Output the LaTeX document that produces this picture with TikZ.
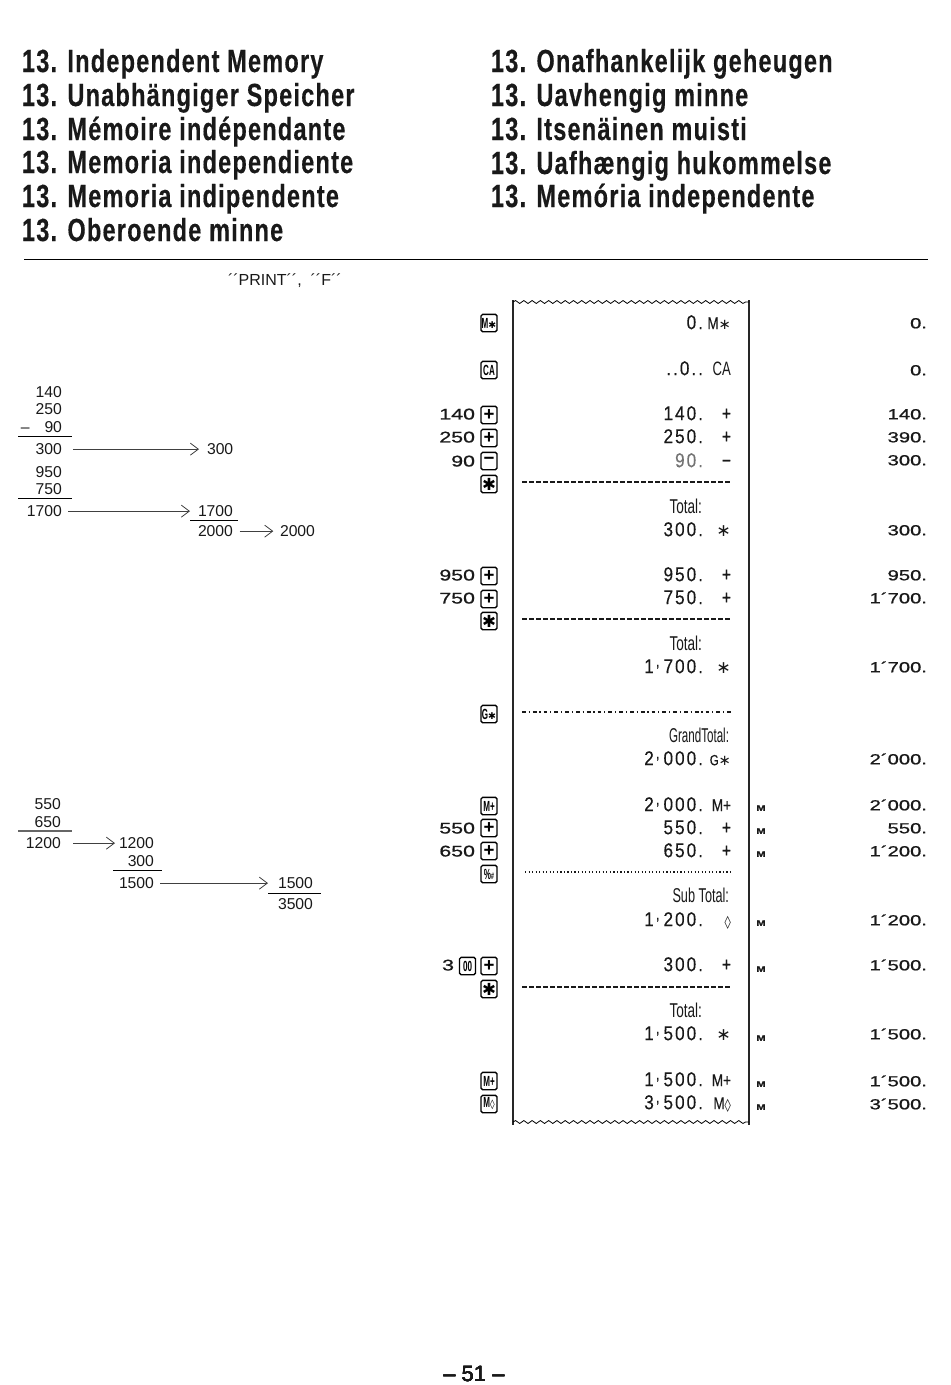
\documentclass[tikz,border=0pt]{standalone}
\usepackage{fontspec}
\usetikzlibrary{arrows.meta,decorations.pathmorphing}
\setmainfont{Liberation Sans}
\newfontfamily\headf[FakeStretch=0.735,LetterSpace=3.8,FakeBold=0.3]{Liberation Sans Bold}
\newfontfamily\recf[FakeStretch=0.86,LetterSpace=10,FakeBold=0.25]{Liberation Sans}
\newfontfamily\labf[FakeStretch=0.68]{Liberation Sans}
\newfontfamily\labg[FakeStretch=0.58]{Liberation Sans}
\newfontfamily\labs[FakeStretch=0.635]{Liberation Sans}
\newfontfamily\symlab[FakeStretch=0.78,FakeBold=0.2]{Liberation Sans}
\newfontfamily\widef[FakeStretch=1.38,FakeBold=0.9]{Liberation Sans}
\newfontfamily\symf{DejaVu Sans}
\newfontfamily\keyf[FakeStretch=0.55]{Liberation Sans Bold}
\newfontfamily\plusf{Liberation Sans Bold}
\newcommand\fsz[1]{\fontsize{#1}{#1}\selectfont}
\newcommand\rc{\kern1.6pt\raisebox{.33em}{\scalebox{.75}{,}}\kern3pt}
\newcommand\st{{\symf\fsz{13}∗}}
\newcommand\sst{{\symf\fsz{11}∗}}
\tikzset{
  txt/.style={inner sep=0pt,outer sep=0pt,text=black!90},
  head/.style={txt,anchor=base west,font=\headf\fsz{24}},
  sumtxt/.style={txt,anchor=mid east,yshift=-.8pt,font=\fsz{11.8}},
  sumleft/.style={txt,anchor=mid west,yshift=-.8pt,font=\fsz{11.8}},
  recnum/.style={txt,anchor=mid east,yshift=-2pt,font=\recf\fsz{15}},
  recsym/.style={txt,anchor=mid east,yshift=-2pt,font=\symlab\fsz{15}},
  reclab/.style={txt,anchor=mid east,yshift=-2pt,font=\labf\fsz{15}},
  disp/.style={txt,anchor=mid east,yshift=-.6pt,font=\widef\fsz{11}},
  inp/.style={txt,anchor=mid east,yshift=-.7pt,font=\widef\fsz{11.6}},
  mflag/.style={txt,font=\widef\bfseries\fsz{6}},
  keybox/.style={draw=black,line width=1pt,rounded corners=1.2pt,inner sep=0pt,minimum width=12pt,minimum height=13pt,font=\keyf\fsz{11}},
  rule/.style={draw=black,line width=1pt},
  thinrule/.style={draw=black!60,line width=.8pt},
  flow/.style={draw=black!75,line width=.6pt,-{Straight Barb[length=6pt,width=9pt,line width=.6pt]}},
  tear/.style={draw=black,line width=.6pt,decorate,decoration={snake,amplitude=1.1pt,segment length=6.2pt}},
  edge/.style={draw=black!85,line width=1.1pt},
  dashline/.style={draw=black!90,line width=.85pt,dash pattern=on 3.7pt off 1.55pt},
  dotline/.style={draw=black!90,line width=.9pt,dash pattern=on .9pt off 1.75pt},
  dashdot/.style={draw=black!90,line width=.8pt,dash pattern=on 2.8pt off 2.2pt on .9pt off 2.2pt},
}
% name, y, number, symbol
\newcommand\row[4]{\node[recnum] (#1n) at (703,#2) {#3};\node[recsym] (#1s) at (731,#2) {#4};}
% name, y, value
\newcommand\dsp[3]{\node[disp] (#1d) at (927,#2+1) {#3};}
\newcommand\flag[2]{\node[mflag] (#1f) at (761,#2+3) {M};}
\newcommand\key[3]{\node[keybox] (#1k) at (489,#2) {#3};}
\newcommand\pk{\plusf\fsz{14}+}
\newcommand\mk{\plusf\fsz{14}−}
\newcommand\sk{\symf\fsz{12.5}✱}
\begin{document}
\begin{tikzpicture}[x=.75pt,y=-.75pt]
\useasboundingbox (0,0) rectangle (950,1385);
% headings
\foreach \t/\y/\n in {13. Independent Memory/72/ha,13. Unabhängiger Speicher/106/hb,13. Mémoire indépendante/140/hc,13. Memoria independiente/173/hd,13. Memoria indipendente/207/he,13. Oberoende minne/241/hf}
  \node[head] (\n) at (22,\y) {\t};
\foreach \t/\y/\n in {13. Onafhankelijk geheugen/72/ia,13. Uavhengig minne/106/ib,13. Itsenäinen muisti/140/ic,13. Uafhængig hukommelse/174/id,13. Memória independente/207/ie}
  \node[head] (\n) at (491,\y) {\t};
\path[rule] (24,259.5) -- (928,259.5);
\node[txt,anchor=mid west,yshift=-1.2pt,font=\fsz{12}] (print) at (228,280) {´´PRINT´´,\ \ ´´F´´};
% left sums 1
\node[sumtxt] (a1) at (62,393) {140};
\node[sumtxt] (a2) at (62,410) {250};
\node[sumtxt] (a3) at (62,428) {90};
\node[sumleft] (a3m) at (21,428) {–};
\path[rule] (18,436.5) -- (72,436.5);
\node[sumtxt] (a4) at (62,450) {300};
\node[sumleft] (a5) at (207,450) {300};
\draw[flow,shorten <=8.2pt,shorten >=6pt] (a4.east) -- (a5.west);
\node[sumtxt] (b1) at (62,473) {950};
\node[sumtxt] (b2) at (62,490) {750};
\path[rule] (18,498.5) -- (72,498.5);
\node[sumtxt] (b3) at (62,512) {1700};
\node[sumleft] (b4) at (198,512) {1700};
\draw[flow,shorten <=4.5pt,shorten >=6pt] (b3.east) -- (b4.west);
\path[rule] (190,520.5) -- (238,520.5);
\node[sumleft] (b5) at (198,532) {2000};
\node[sumleft] (b6) at (280,532) {2000};
\draw[flow,shorten <=5pt,shorten >=5pt] (b5.east) -- (b6.west);
% left sums 2
\node[sumtxt] (c1) at (61,805) {550};
\node[sumtxt] (c2) at (61,823) {650};
\path[thinrule] (18,831) -- (72,831);
\node[sumtxt] (c3) at (61,844) {1200};
\node[sumleft] (c4) at (119,844) {1200};
\draw[flow,shorten <=9pt,shorten >=3pt] (c3.east) -- (c4.west);
\node[sumtxt] (c5) at (154,862) {300};
\path[rule] (113,870.5) -- (162,870.5);
\node[sumtxt] (c6) at (154,884) {1500};
\node[sumleft] (c7) at (278,884) {1500};
\draw[flow,shorten <=4.5pt,shorten >=7.5pt] (c6.east) -- (c7.west);
\path[rule] (268,893.5) -- (321,893.5);
\node[sumleft] (c8) at (278,905) {3500};
% tape
\path[edge] (513,300) -- (513,1125);
\path[edge] (749,300) -- (749,1125);
\path[tear] (513,302) -- (749,302);
\path[tear] (513,1122) -- (749,1122);
\row{r1}{323}{0.}{{\fsz{13}M}\sst}
\row{r2}{369}{..0..}{\labf\fsz{14.5}CA}
\row{r3}{414}{140.}{+}
\row{r4}{437}{250.}{+}
\node[recnum,text=black!55] (r5n) at (703,461) {90.};
\node[recsym] (r5s) at (731,461) {−};
\path[dashline] (522,482) -- (731,482);
\node[reclab] (t1) at (702,507) {Total:};
\row{r6}{530}{300.}{\st}
\row{r7}{575}{950.}{+}
\row{r8}{598}{750.}{+}
\path[dashline] (522,619) -- (731,619);
\node[reclab] (t2) at (702,644) {Total:};
\row{r9}{667}{1\rc 700.}{\st}
\path[dashdot] (522,712) -- (731,712);
\node[reclab,font=\labg\fsz{15}] (t3) at (729,736) {GrandTotal:};
\row{r10}{759}{2\rc 000.}{{\fsz{11}G}\sst}
\row{r11}{805}{2\rc 000.}{{\fsz{13}M+}}
\row{r12}{828}{550.}{+}
\row{r13}{851}{650.}{+}
\path[dotline] (525,872) -- (731,872);
\node[reclab,font=\labs\fsz{15}] (t4) at (729,896) {Sub Total:};
\row{r14}{920}{1\rc 200.}{{\symf\fsz{9.5}◊}}
\row{r15}{965}{300.}{+}
\path[dashline] (522,987) -- (731,987);
\node[reclab] (t5) at (702,1011) {Total:};
\row{r16}{1034}{1\rc 500.}{\st}
\row{r17}{1080}{1\rc 500.}{{\fsz{13}M+}}
\row{r18}{1103}{3\rc 500.}{{\fsz{13}M}{\symf\fsz{9.5}◊}}
% keys
\key{k1}{323}{M{\symf\fsz{7}✱}}
\key{k2}{370}{CA}
\key{k3}{415}{\pk}
\key{k4}{438}{\pk}
\key{k5}{461}{\mk}
\key{k6}{484}{\sk}
\key{k7}{576}{\pk}
\key{k8}{599}{\pk}
\key{k9}{621}{\sk}
\key{k10}{714}{G{\symf\fsz{7}✱}}
\key{k11}{806}{M+}
\key{k12}{828}{\pk}
\key{k13}{851}{\pk}
\key{k14}{874}{\fsz{11}\%{\fsz{7}\#}}
\key{k15}{966}{\pk}
\key{k16}{989}{\sk}
\key{k17}{1081}{M+}
\key{k18}{1104}{M{\symf\fsz{7}◊}}
\node[keybox] (k19) at (467.5,966) {00};
% typed numbers
\node[inp] (i1) at (475,415) {140};
\node[inp] (i2) at (475,438) {250};
\node[inp] (i3) at (475,462) {90};
\node[inp] (i4) at (475,576) {950};
\node[inp] (i5) at (475,599) {750};
\node[inp] (i6) at (475,829) {550};
\node[inp] (i7) at (475,852) {650};
\node[inp] (i8) at (454,966) {3};
% display column
\dsp{d1}{323}{0.}
\dsp{d2}{370}{0.}
\dsp{d3}{414}{140.}
\dsp{d4}{437}{390.}
\dsp{d5}{460}{300.}
\dsp{d6}{530}{300.}
\dsp{d7}{575}{950.}
\dsp{d8}{598}{1´700.}
\dsp{d9}{667}{1´700.}
\dsp{d10}{759}{2´000.}
\dsp{d11}{805}{2´000.}
\dsp{d12}{828}{550.}
\dsp{d13}{851}{1´200.}
\dsp{d14}{920}{1´200.}
\dsp{d15}{965}{1´500.}
\dsp{d16}{1034}{1´500.}
\dsp{d17}{1081}{1´500.}
\dsp{d18}{1104}{3´500.}
\foreach \y/\n in {805/f1,828/f2,851/f3,920/f4,966/f5,1035/f6,1081/f7,1104/f8}
  \flag{\n}{\y}
\node[txt,font=\fsz{16.5}] (page) at (474,1374) {– 51 –};
\end{tikzpicture}
\end{document}
